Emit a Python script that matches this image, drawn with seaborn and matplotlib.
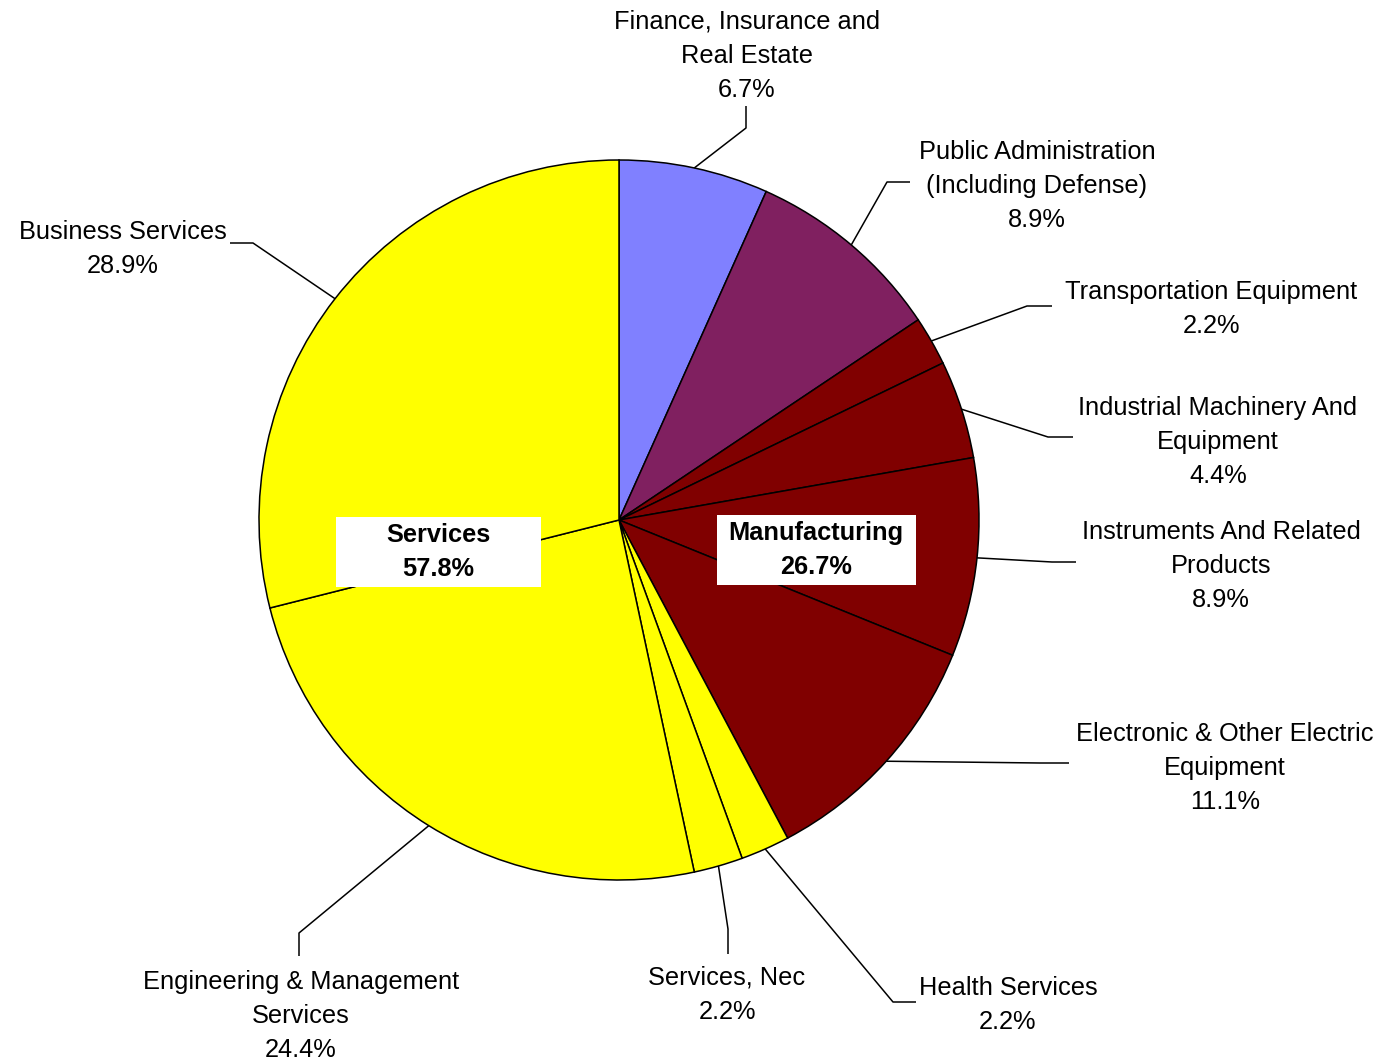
import matplotlib
matplotlib.use("Agg")
import numpy as np
import matplotlib.pyplot as plt
from matplotlib.patches import Rectangle
import seaborn as sns

# ---------------- data ----------------
categories = [
    "Finance, Insurance and\nReal Estate",
    "Public Administration\n(Including Defense)",
    "Transportation Equipment",
    "Industrial Machinery And\nEquipment",
    "Instruments And Related\nProducts",
    "Electronic & Other Electric\nEquipment",
    "Health Services",
    "Services, Nec",
    "Engineering & Management\nServices",
    "Business Services",
]
shares = [6.7, 8.9, 2.2, 4.4, 8.9, 11.1, 2.2, 2.2, 24.4, 28.9]
pct_labels = ["6.7%", "8.9%", "2.2%", "4.4%", "8.9%", "11.1%", "2.2%", "2.2%", "24.4%", "28.9%"]
slice_group = ["Finance", "Public", "Manufacturing", "Manufacturing", "Manufacturing",
               "Manufacturing", "Services", "Services", "Services", "Services"]
group_names = ["Services", "Manufacturing"]
group_pcts = ["57.8%", "26.7%"]

# ---------------- style / layout ----------------
sns.set_theme(style="white")
plt.rcParams["font.family"] = ["Liberation Sans", "DejaVu Sans"]
plt.rcParams["text.color"] = "black"

group_colors = {"Finance": "#8080FF", "Public": "#802060",
                "Manufacturing": "#800000", "Services": "#FFFF00"}

W, H = 1386, 1059
CX, CY, R = 619, 520, 360
FS = 18.3
LS = 1.535


def py(y):
    return H - y

# per slice: elbow point, end point, label centre (x, first-line centre y)  in pixel coords
leader_layout = [
    ((746, 128), (746, 106), (747, 22)),
    ((887, 182), (910, 182), (1037, 152)),
    ((1027, 306), (1052, 306), (1211, 292)),
    ((1048, 437), (1073, 437), (1218, 408)),
    ((1052, 562), (1076, 562), (1221, 532)),
    ((1040, 763), (1069, 763), (1225, 734)),
    ((893, 1002), (916, 1002), (1008, 988)),
    ((728, 929), (728, 954), (727, 978)),
    ((299, 933), (299, 956), (301, 982)),
    ((253, 243), (230, 243), (123, 232)),
]
LINE_H = 34
group_box = [((438, 552), 205, 70), ((816, 550), 199, 70)]

fig = plt.figure(figsize=(W / 100, H / 100), dpi=100)
ax = fig.add_axes([0, 0, 1, 1])

colors = [group_colors[g] for g in slice_group]
wedges, _ = ax.pie(shares, colors=colors, startangle=90, counterclock=False,
                   center=(CX, py(CY)), radius=R, frame=True,
                   wedgeprops=dict(edgecolor="black", linewidth=1.1))

for w, lab, pct, (elb, end, lxy) in zip(wedges, categories, pct_labels, leader_layout):
    mid = np.deg2rad((w.theta1 + w.theta2) / 2)
    sx = w.center[0] + w.r * np.cos(mid)
    sy = w.center[1] + w.r * np.sin(mid)
    ax.plot([sx, elb[0], end[0]], [sy, py(elb[1]), py(end[1])],
            color="black", lw=1.1, solid_capstyle="butt", zorder=3)
    text = lab + "\n" + pct
    n = text.count("\n") + 1
    cy = lxy[1] + (n - 1) * LINE_H / 2
    ax.text(lxy[0], py(cy), text, ha="center", va="center", multialignment="center",
            fontsize=FS, linespacing=LS, color="black")

for name, pct, ((bx, by), bw, bh) in zip(group_names, group_pcts, group_box):
    ax.add_patch(Rectangle((bx - bw / 2, py(by) - bh / 2), bw, bh,
                           facecolor="white", edgecolor="none", zorder=4))
    ax.text(bx, py(by), name + "\n" + pct, ha="center", va="center",
            multialignment="center", fontsize=FS, fontweight="bold",
            linespacing=LS, color="black", zorder=5)

ax.set_xlim(0, W)
ax.set_ylim(0, H)
ax.set_aspect("equal")
ax.axis("off")
fig.savefig("out.png", dpi=100, facecolor="white")
